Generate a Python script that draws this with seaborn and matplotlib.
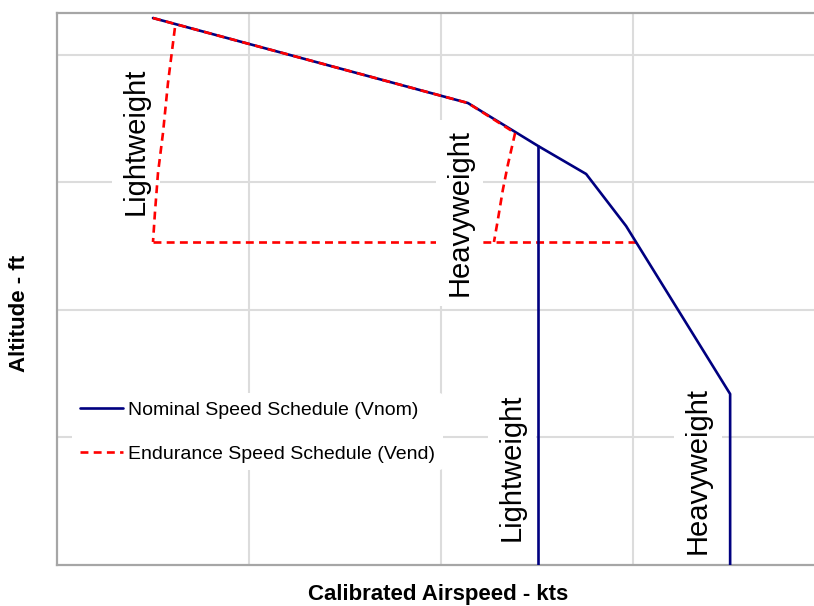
import matplotlib
matplotlib.use("Agg")
import matplotlib.pyplot as plt
import seaborn as sns
from matplotlib.lines import Line2D

# ---- data (arbitrary units: airspeed kts, altitude ft) ----
nom_x = [175.0, 257.0, 275.3, 287.8, 298.2, 325.3, 325.3]
nom_y = [42900, 36235, 32863, 30667, 26588, 13412, 0]
nom_light_x = [275.3, 275.3]
nom_light_y = [32863, 0]

end_upper_x = [175.0, 257.0, 269.3]
end_upper_y = [42900, 36235, 33882]
end_light_x = [180.7, 178.9, 177.6, 176.3, 175.5, 175.0]
end_light_y = [42118, 37804, 33882, 30745, 27608, 25333]
end_heavy_x = [269.3, 267.4, 266.1, 264.8, 263.8]
end_heavy_y = [33882, 31373, 29412, 27059, 25333]
end_floor_x = [175.0, 300.8]
end_floor_y = [25333, 25333]

labels = ["Lightweight", "Heavyweight", "Lightweight", "Heavyweight"]
label_x = [170.6, 254.9, 268.5, 316.9]
label_y = [33255, 27608, 7686, 7450]

legend_labels = ["Nominal Speed Schedule (Vnom)", "Endurance Speed Schedule (Vend)"]

NAVY = "#000080"
RED = "#ff0000"

sns.set_style("whitegrid")
plt.rcParams["font.family"] = ["Liberation Sans", "DejaVu Sans"]
plt.rcParams["text.color"] = "black"
plt.rcParams["axes.labelcolor"] = "black"

fig = plt.figure(figsize=(8.14, 6.06), dpi=100)
ax = fig.add_axes([57/814, 41/606, 757/814, 552/606])

lw = 1.9


def draw(xs, ys, color, dashed=False, z=2):
    sns.lineplot(x=xs, y=ys, sort=False, estimator=None, errorbar=None,
                 color=color, lw=lw, ax=ax)
    ln = ax.lines[-1]
    if dashed:
        ln.set_dashes((3, 2))
    ln.set_zorder(z)


draw(nom_x, nom_y, NAVY, z=4.5)
draw(nom_light_x, nom_light_y, NAVY, z=4.5)
draw(end_upper_x, end_upper_y, RED, True, 4.6)
draw(end_light_x, end_light_y, RED, True, 4.6)
draw(end_heavy_x, end_heavy_y, RED, True, 4.6)
draw(end_floor_x, end_floor_y, RED, True, 2.5)

for t, x, y in zip(labels, label_x, label_y):
    ax.text(x, y, t, rotation=90, ha="center", va="center", fontsize=21,
            color="black", zorder=4,
            bbox=dict(facecolor="white", edgecolor="none", pad=7))

handles = [Line2D([], [], color=NAVY, lw=lw),
           Line2D([], [], color=RED, lw=lw, dashes=(3, 2))]
leg = ax.legend(handles, legend_labels, loc="center left",
                bbox_to_anchor=(0.0198, 0.2410), borderaxespad=0,
                frameon=True, fontsize=14, handlelength=2.2,
                handletextpad=0.3, labelspacing=1.35, borderpad=0.4)
leg.get_frame().set_edgecolor("none")
leg.get_frame().set_facecolor("white")
leg.get_frame().set_alpha(1)
leg.set_zorder(5)
for txt in leg.get_texts():
    txt.set_color("black")

ax.set_xlim(150, 347.14)
ax.set_ylim(0, 43294)
ax.set_xticks([200, 250, 300])
ax.set_yticks([10000, 20000, 30000, 40000])
ax.set_xticklabels([])
ax.set_yticklabels([])
ax.tick_params(length=0)
ax.grid(True, color="#dcdcdc", lw=1.5)

for side in ["left", "bottom", "top"]:
    ax.spines[side].set_visible(True)
    ax.spines[side].set_color("#a6a6a6")
    ax.spines[side].set_linewidth(1.6)
ax.spines["right"].set_visible(False)

ax.set_xlabel("Calibrated Airspeed - kts", fontsize=16, fontweight="bold", color="black")
ax.set_ylabel("Altitude - ft", fontsize=16, fontweight="bold", color="black")
ax.xaxis.set_label_coords(0.503, -0.054)
ax.xaxis.label.set_va("center")
ax.yaxis.set_label_coords(-0.0489, 0.455)
ax.yaxis.label.set_va("center")

fig.savefig("out.png", dpi=100)
